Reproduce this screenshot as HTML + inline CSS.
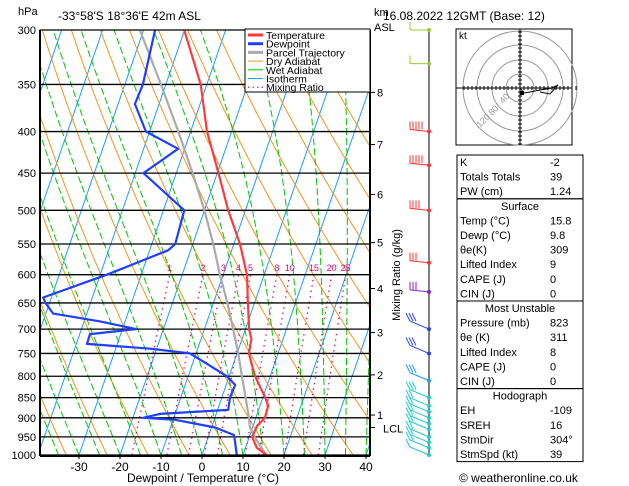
<!DOCTYPE html>
<html><head><meta charset="utf-8"><style>
body{margin:0;background:#fff}
svg{display:block;font-family:"Liberation Sans",sans-serif}
.t{font-size:11px;fill:#000}
</style></head><body>
<svg id="c" width="629" height="486" viewBox="0 0 629 486" xmlns="http://www.w3.org/2000/svg">
<defs><clipPath id="pc"><rect x="40" y="30" width="330" height="425"/></clipPath></defs>
<g id="bg" clip-path="url(#pc)"></g>
<g id="plines"></g>
<g id="series" clip-path="url(#pc)"></g>
<rect x="40" y="30" width="330" height="425" fill="none" stroke="#000" stroke-width="1"/>
<line x1="40" y1="30" x2="40" y2="456" stroke="#000" stroke-width="2"/>
<line x1="40" y1="456" x2="370" y2="456" stroke="#000" stroke-width="2"/>
<line x1="370" y1="30" x2="370" y2="456" stroke="#000" stroke-width="2"/>
<text class="t" x="18" y="15">hPa</text>
<text class="t" x="58" y="20" style="font-size:12px">-33°58'S  18°36'E  42m  ASL</text>
<text class="t" x="374" y="16">km</text>
<text class="t" x="374" y="31">ASL</text>
<text class="t" x="383" y="20" style="font-size:12px">16.08.2022  12GMT  (Base: 12)</text>
<g id="yt"></g>
<g id="xt"></g>
<text class="t" x="203" y="482" text-anchor="middle" style="font-size:12px">Dewpoint / Temperature (°C)</text>
<g id="km"></g>
<text class="t" transform="translate(400,275) rotate(-90)" text-anchor="middle">Mixing Ratio (g/kg)</text>
<g>
<rect x="245" y="29" width="125" height="63" fill="#fff" stroke="#000"/>
<g id="leg"></g></g>
<g id="wind"></g>
<g id="hodo"></g>
<g id="tbl"></g>
<text class="t" x="459" y="482" style="font-size:12px">© weatheronline.co.uk</text>
</svg>
<script>
// ---- data ----
const tempP=[300,350,400,450,500,550,600,650,700,720,750,800,850,870,900,920,950,980,1000];
const tempT=[-40.1,-31.5,-26.0,-19.7,-14.2,-8.5,-4.2,-1.6,0.9,2.3,2.9,6.3,10.6,12.0,12.2,11.0,10.7,12.8,15.8];
const dewP=[300,350,370,400,420,450,500,550,560,600,640,650,670,685,700,710,730,740,750,770,800,820,850,880,890,900,905,925,945,960,1000];
const dewT=[-47.2,-45.6,-45.9,-40.9,-31.6,-38.0,-24.9,-24.3,-25.5,-38.4,-52,-51,-48.2,-36.1,-26.7,-37.5,-37.4,-21.6,-11.5,-7.0,-0.6,2.2,2.0,2.6,-13.7,-17.5,-9.5,0.9,6.1,6.8,8.5];
const parP=[300,350,400,450,500,550,600,650,700,750,800,850,900,925,950,1000];
const parT=[-50.9,-41.2,-33,-26,-20,-15,-10.8,-6.6,-3.0,0.3,3.1,5.8,8.3,9.4,11.3,15.6];
const pLevels=[300,350,400,450,500,550,600,650,700,750,800,850,900,950,1000];
const xTicks=[-30,-20,-10,0,10,20,30,40];
const mixVals=[1,2,3,4,5,8,10,15,20,25];
const kmVals=[1,2,3,4,5,6,7,8];
const kmP=[893,797,707,624,548,478,415,358];
const windP=[300,330,400,440,500,580,630,700,750,810,850,870,885,900,915,930,950,965,980,1000];
const windSpd=[10,10,45,50,35,25,30,30,30,25,25,20,20,20,20,20,15,15,15,10];
const tblRows=[["K","-2"],["Totals Totals","39"],["PW (cm)","1.24"],["#Surface"],["Temp (°C)","15.8"],["Dewp (°C)","9.8"],["θe(K)","309"],["Lifted Index","9"],["CAPE (J)","0"],["CIN (J)","0"],["#Most Unstable"],["Pressure (mb)","823"],["θe (K)","311"],["Lifted Index","8"],["CAPE (J)","0"],["CIN (J)","0"],["#Hodograph"],["EH","-109"],["SREH","16"],["StmDir","304°"],["StmSpd (kt)","39"]];
// ---- axes ----
const NS="http://www.w3.org/2000/svg";
function yP(p){return 455-353*Math.log(1000/p);}
function xT(T,p){return 202+4.1*T+0.345*(455-yP(p));}
function mk(tag,at,parent){const e=document.createElementNS(NS,tag);for(const k in at)e.setAttribute(k,at[k]);parent.appendChild(e);return e;}
function path(pts){return pts.map((q,i)=>(i?"L":"M")+q[0].toFixed(1)+" "+q[1].toFixed(1)).join("");}
const bg=document.getElementById("bg");
// isotherms
for(let T=-130;T<=40;T+=10){const l=mk("line",{x1:xT(T,1000),y1:yP(1000),x2:xT(T,300),y2:yP(300),stroke:"#1a9fff","stroke-width":1},bg);

}
// dry adiabats
for(let th=230;th<=480;th+=10){const pts=[];for(let p=1000;p>=300;p-=10){const T=th*Math.pow(p/1000,0.286)-273.15;pts.push([xT(T,p),yP(p)]);}
const e=mk("path",{d:path(pts),fill:"none",stroke:"#f7941d","stroke-width":1},bg);

}
// wet adiabats
function es(T){return 6.112*Math.exp(17.67*T/(T+243.5));}
for(let T0=-40;T0<=40;T0+=5){let T=T0+273.15;const pts=[[xT(T0,1000),yP(1000)]];
for(let p=1000;p>300;p-=5){const rs=0.622*es(T-273.15)/(p-es(T-273.15));const dT=(287*T+2.5e6*rs)/(p*(1004+2.5e6*2.5e6*rs*0.622/(287*T*T)));T-=dT*5;pts.push([xT(T-273.15,p-5),yP(p-5)]);}
const e=mk("path",{d:path(pts),fill:"none",stroke:"#00c800","stroke-width":1,"stroke-dasharray":"7,3"},bg);

}
// mixing ratio
function tdw(w,p){const e=w*p/(622+w);const a=Math.log(e/6.112);return 243.5*a/(17.67-a);}
const svg=document.getElementById("c");
mixVals.forEach(w=>{const pts=[];for(let p=1000;p>=600;p-=10)pts.push([xT(tdw(w,p),p),yP(p)]);
const e=mk("path",{d:path(pts),fill:"none",stroke:"#e6007e","stroke-width":1.2,"stroke-dasharray":"1.5,4"},bg);


const t=mk("text",{x:xT(tdw(w,600),600),y:271,"text-anchor":"middle",fill:"#e6007e","font-size":"9"},svg);t.textContent=w;

});
// pressure lines & labels
const pl=document.getElementById("plines"),yt=document.getElementById("yt");
pLevels.forEach(p=>{const l=mk("line",{x1:40,x2:370,y1:yP(p),y2:yP(p),stroke:"#000","stroke-width":1.3},pl);


const t=mk("text",{x:36,y:yP(p)+4,"text-anchor":"end",class:"t"},yt);t.textContent=p;

});
const xt=document.getElementById("xt");
xTicks.forEach(T=>{const x=xT(T,1000);mk("line",{x1:x,x2:x,y1:455,y2:459,stroke:"#000"},xt);
const t=mk("text",{x:x,y:471,"text-anchor":"middle",class:"t",style:"font-size:12px"},xt);t.textContent=T;

});
// km axis
const km=document.getElementById("km");
kmVals.forEach((k,i)=>{const y=yP(kmP[i]);mk("line",{x1:370,x2:375,y1:y,y2:y,stroke:"#000"},km);
const t=mk("text",{x:377,y:y+4,class:"t"},km);t.textContent=k;

});
mk("line",{x1:370,x2:375,y1:yP(925),y2:yP(925),stroke:"#000"},km);
const lcl=mk("text",{x:383,y:yP(925)+5,class:"t"},km);lcl.textContent="LCL";
// profiles
const ser=document.getElementById("series");
function prof(P,T,col,name){const e=mk("path",{d:path(P.map((p,i)=>[xT(T[i],p),yP(p)])),fill:"none",stroke:col,"stroke-width":2.2,"stroke-linejoin":"round"},ser);

}
prof(parP,parT,"#aaaaaa","parcel-trajectory-line");
prof(dewP,dewT,"#1f3fff","dewpoint-line");
prof(tempP,tempT,"#ff3a3a","temperature-line");
// legend
const leg=document.getElementById("leg");
[["Temperature","#ff3a3a",3,0],["Dewpoint","#1f3fff",3,0],["Parcel Trajectory","#aaa",3,0],["Dry Adiabat","#f7941d",1,0],["Wet Adiabat","#00c800",1,0],["Isotherm","#1a9fff",1,0],["Mixing Ratio","#e6007e",1.2,1]].forEach((r,i)=>{const y=35+i*8.7;
const l=mk("line",{x1:248,x2:263,y1:y,y2:y,stroke:r[1],"stroke-width":r[2]},leg);if(r[3])l.setAttribute("stroke-dasharray","1.5,3");
const t=mk("text",{x:266,y:y+4,class:"t",style:"font-size:10.5px"},leg);t.textContent=r[0];

});
// wind barbs
const wg=document.getElementById("wind");
mk("line",{x1:429,x2:429,y1:yP(300),y2:455,stroke:"#000"},wg);
function wcol(p){return p<380?"#99cc33":p<600?"#ff3333":p<650?"#8822cc":p<780?"#2244ff":p<840?"#2299ff":"#22cccc";}
windP.forEach((p,i)=>{const y=yP(p),c=wcol(p),s=windSpd[i];const g=mk("g",{},wg);


mk("circle",{cx:429,cy:y,r:2,fill:c},g);
const x2=410,y2=y-(p<380?0:p<650?2:8);
mk("line",{x1:429,y1:y,x2:x2,y2:y2,stroke:c},g);
let n=Math.round(s/10),x=x2;for(let k=0;k<n;k++){mk("line",{x1:x,y1:y2,x2:x-(p<650?0:4),y2:y2-8,stroke:c},g);x+=3;}
if(p<380)mk("line",{x1:x2,y1:y2,x2:x2,y2:y2-8,stroke:c},g);});
// hodograph
const h=document.getElementById("hodo");
mk("rect",{x:456,y:29,width:116,height:116,fill:"#fff",stroke:"#000"},h);
const cx=520,cy=88;
[14,28,43,57].forEach(r=>mk("circle",{cx:cx,cy:cy,r:r,fill:"none",stroke:"#999"},h));
mk("line",{x1:456,x2:572,y1:cy,y2:cy,stroke:"#000"},h);mk("line",{x1:cx,x2:cx,y1:29,y2:145,stroke:"#000"},h);
for(let i=-56;i<=56;i+=4){mk("line",{x1:cx+i,x2:cx+i,y1:cy-2,y2:cy+2,stroke:"#000"},h);mk("line",{y1:cy+i,y2:cy+i,x1:cx-2,x2:cx+2,stroke:"#000"},h);}
[["40",503,104],["80",492,116],["120",480,128]].forEach(a=>{const t=mk("text",{x:a[1],y:a[2],fill:"#999","font-size":"9",transform:`rotate(-45 ${a[1]} ${a[2]})`},h);t.textContent=a[0];});
mk("path",{d:"M520 88 L524 93 L530 92 L540 90 L552 88 L558 85 L550 94 L540 92",fill:"none",stroke:"#000"},h);
mk("rect",{x:520,y:91,width:4,height:4,fill:"#000"},h);
const kt=mk("text",{x:459,y:39,class:"t",style:"font-size:10px"},h);kt.textContent="kt";
// table
const tb=document.getElementById("tbl");
const rh=14.6;let y0=155;const boxes=[[0,3],[3,10],[10,16],[16,21]];
boxes.forEach(b=>{mk("rect",{x:457,y:y0+b[0]*rh+(b[0]?2:0)*0,width:126,height:(b[1]-b[0])*rh,fill:"none",stroke:"#000"},tb);});
tblRows.forEach((r,i)=>{const y=y0+i*rh+11;
if(r[0][0]=="#"){const t=mk("text",{x:520,y:y,"text-anchor":"middle",class:"t"},tb);t.textContent=r[0].slice(1);}
else{const a=mk("text",{x:460,y:y,class:"t"},tb);a.textContent=r[0];const b=mk("text",{x:550,y:y,class:"t"},tb);b.textContent=r[1];

}});
</script>
</body></html>
